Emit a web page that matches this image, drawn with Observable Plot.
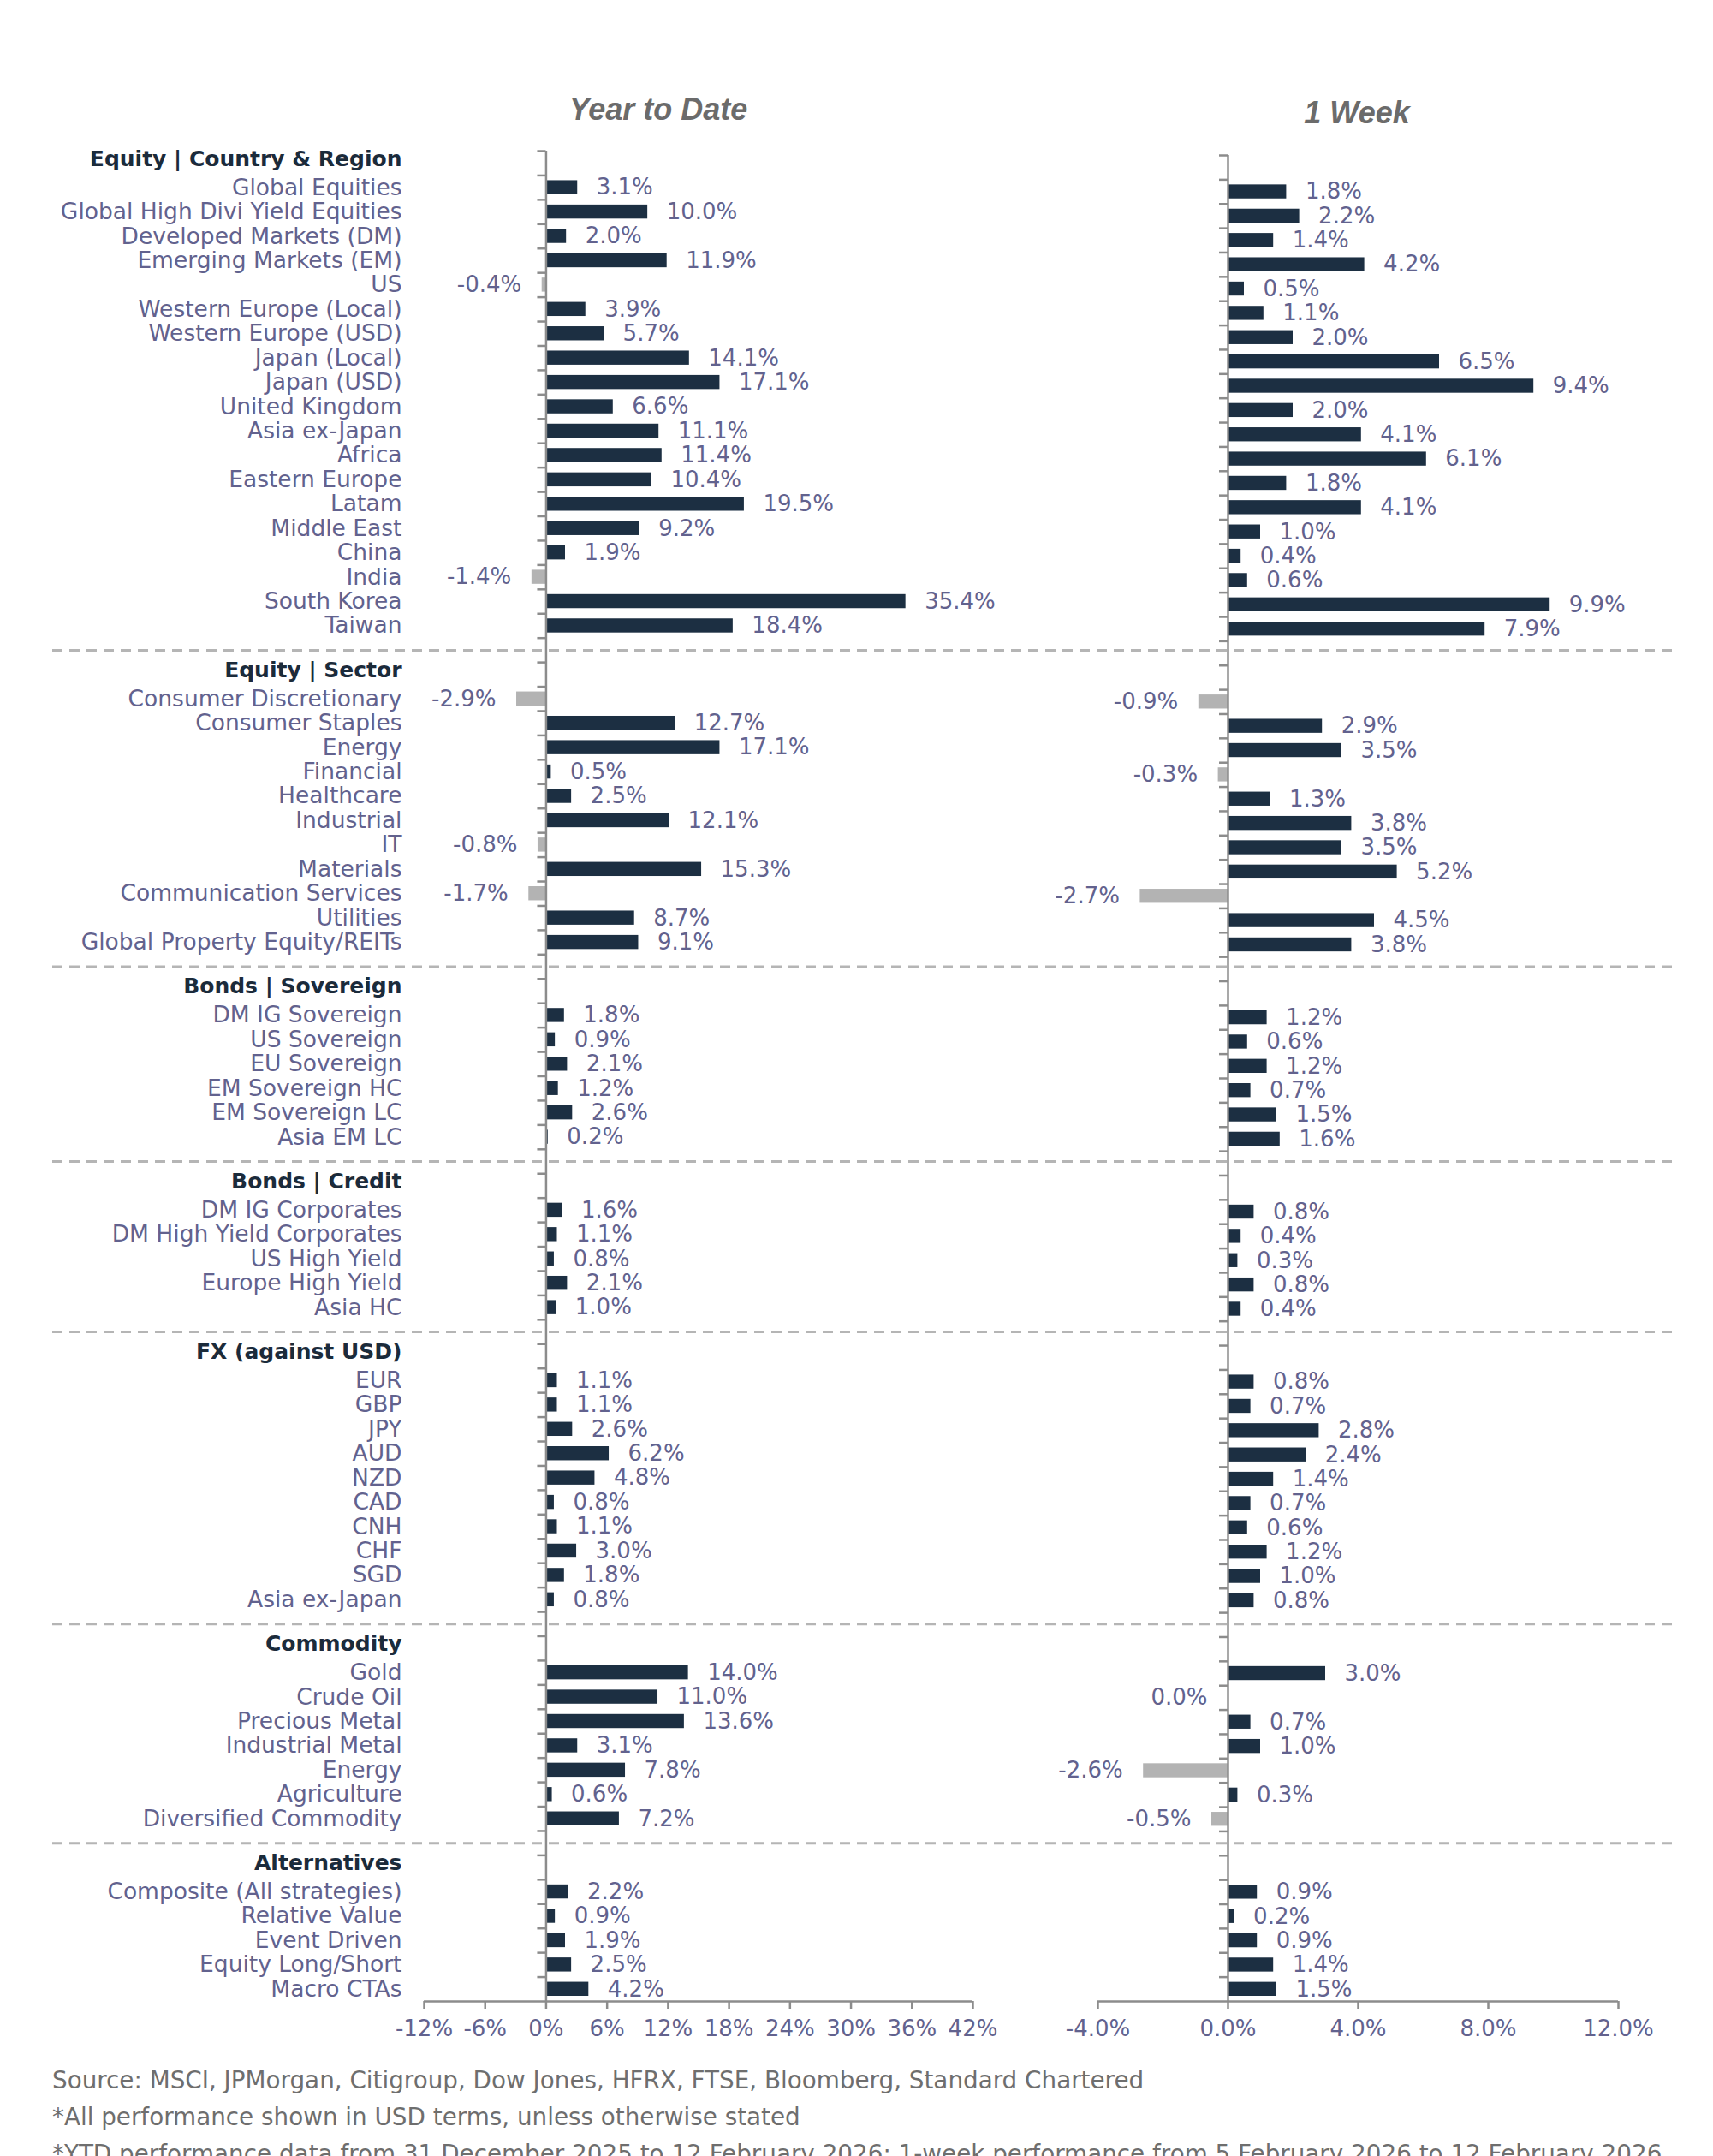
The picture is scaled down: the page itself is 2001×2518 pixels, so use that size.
<!DOCTYPE html>
<html>
<head>
<meta charset="utf-8">
<script src="https://cdn.jsdelivr.net/npm/d3@7"></script>
<script src="https://cdn.jsdelivr.net/npm/@observablehq/plot@0.6"></script>
<style>
  html, body { margin: 0; padding: 0; background: #ffffff; }
  #page { position: relative; width: 2001px; height: 2518px; overflow: hidden; background: #ffffff; font-family: "DejaVu Sans", sans-serif; }
  .title { position: absolute; font: italic bold 36px "Liberation Sans", Arial, sans-serif; color: #6b6b6b; white-space: nowrap; transform: translate(-50%, -50%); line-height: 1; }
  .note { position: absolute; left: 61px; font-size: 27.8px; color: #6e6e6e; white-space: nowrap; transform: translateY(-50%); line-height: 1; }
  #left, #right { position: absolute; top: 150px; }
  #left { left: 0px; }
  #right { left: 1200px; }
  svg { overflow: visible; }
</style>
</head>
<body>
<div id="page">
  <div class="title" id="t1" style="left:769px; top:128px;"></div>
  <div class="title" id="t2" style="left:1585px; top:132px;"></div>
  <div id="left"></div>
  <div id="right"></div>
  <div class="note" id="n0" style="top:2430px;"></div>
  <div class="note" id="n1" style="top:2473px;"></div>
  <div class="note" id="n2" style="top:2516px;"></div>
</div>
<script>
// ---------- data ----------
const panelTitles = ["Year to Date", "1 Week"];

const sectionTitles = [
  "Equity | Country & Region",
  "Equity | Sector",
  "Bonds | Sovereign",
  "Bonds | Credit",
  "FX (against USD)",
  "Commodity",
  "Alternatives"
];

const eqCountryNames = ["Global Equities", "Global High Divi Yield Equities", "Developed Markets (DM)", "Emerging Markets (EM)", "US", "Western Europe (Local)", "Western Europe (USD)", "Japan (Local)", "Japan (USD)", "United Kingdom", "Asia ex-Japan", "Africa", "Eastern Europe", "Latam", "Middle East", "China", "India", "South Korea", "Taiwan"];
const eqCountryYtd = [3.1, 10.0, 2.0, 11.9, -0.4, 3.9, 5.7, 14.1, 17.1, 6.6, 11.1, 11.4, 10.4, 19.5, 9.2, 1.9, -1.4, 35.4, 18.4];
const eqCountryWeek = [1.8, 2.2, 1.4, 4.2, 0.5, 1.1, 2.0, 6.5, 9.4, 2.0, 4.1, 6.1, 1.8, 4.1, 1.0, 0.4, 0.6, 9.9, 7.9];

const eqSectorNames = ["Consumer Discretionary", "Consumer Staples", "Energy", "Financial", "Healthcare", "Industrial", "IT", "Materials", "Communication Services", "Utilities", "Global Property Equity/REITs"];
const eqSectorYtd = [-2.9, 12.7, 17.1, 0.5, 2.5, 12.1, -0.8, 15.3, -1.7, 8.7, 9.1];
const eqSectorWeek = [-0.9, 2.9, 3.5, -0.3, 1.3, 3.8, 3.5, 5.2, -2.7, 4.5, 3.8];

const sovNames = ["DM IG Sovereign", "US Sovereign", "EU Sovereign", "EM Sovereign HC", "EM Sovereign LC", "Asia EM LC"];
const sovYtd = [1.8, 0.9, 2.1, 1.2, 2.6, 0.2];
const sovWeek = [1.2, 0.6, 1.2, 0.7, 1.5, 1.6];

const creditNames = ["DM IG Corporates", "DM High Yield Corporates", "US High Yield", "Europe High Yield", "Asia HC"];
const creditYtd = [1.6, 1.1, 0.8, 2.1, 1.0];
const creditWeek = [0.8, 0.4, 0.3, 0.8, 0.4];

const fxNames = ["EUR", "GBP", "JPY", "AUD", "NZD", "CAD", "CNH", "CHF", "SGD", "Asia ex-Japan"];
const fxYtd = [1.1, 1.1, 2.6, 6.2, 4.8, 0.8, 1.1, 3.0, 1.8, 0.8];
const fxWeek = [0.8, 0.7, 2.8, 2.4, 1.4, 0.7, 0.6, 1.2, 1.0, 0.8];

const commodityNames = ["Gold", "Crude Oil", "Precious Metal", "Industrial Metal", "Energy", "Agriculture", "Diversified Commodity"];
const commodityYtd = [14.0, 11.0, 13.6, 3.1, 7.8, 0.6, 7.2];
const commodityWeek = [3.0, 0.0, 0.7, 1.0, -2.6, 0.3, -0.5];

const altNames = ["Composite (All strategies)", "Relative Value", "Event Driven", "Equity Long/Short", "Macro CTAs"];
const altYtd = [2.2, 0.9, 1.9, 2.5, 4.2];
const altWeek = [0.9, 0.2, 0.9, 1.4, 1.5];

const ytdTicks = [-12, -6, 0, 6, 12, 18, 24, 30, 36, 42];
const weekTicks = [-4, 0, 4, 8, 12];

const footnotes = [
  "Source: MSCI, JPMorgan, Citigroup, Dow Jones, HFRX, FTSE, Bloomberg, Standard Chartered",
  "*All performance shown in USD terms, unless otherwise stated",
  "*YTD performance data from 31 December 2025 to 12 February 2026; 1-week performance from 5 February 2026 to 12 February 2026"
];

// ---------- build rows ----------
const sectionNames = [eqCountryNames, eqSectorNames, sovNames, creditNames, fxNames, commodityNames, altNames];
const sectionYtd = [eqCountryYtd, eqSectorYtd, sovYtd, creditYtd, fxYtd, commodityYtd, altYtd];
const sectionWeek = [eqCountryWeek, eqSectorWeek, sovWeek, creditWeek, fxWeek, commodityWeek, altWeek];

const rows = [];
sectionTitles.forEach((t, s) => {
  rows.push({id: "h" + s, kind: "header", name: t});
  sectionNames[s].forEach((n, i) => rows.push({id: "r" + s + "_" + i, kind: "item", name: n, ytd: sectionYtd[s][i], week: sectionWeek[s][i]}));
  if (s < sectionTitles.length - 1) rows.push({id: "sep" + s, kind: "sep"});
});
const ids = rows.map(r => r.id);
const items = rows.filter(r => r.kind === "item");
const headers = rows.filter(r => r.kind === "header");
const seps = rows.filter(r => r.kind === "sep");

// ---------- style ----------
const NAVY = "#1c2f42";
const GREY = "#b3b3b3";
const LABEL = "#62628e";
const HEAD = "#1b2b3b";
const AXIS = "#8c8c8c";
const SEP = "#b5b5b5";

const H = 2250, MB = 63;
const fmtVal = v => (v < 0 ? "-" : "") + Math.abs(v).toFixed(1) + "%";

function panel({key, width, ml, mr, mt, ticks, tickFormat, labels, sepLeft, sepRight}) {
  const bw = (H - mt - MB) / ids.length;
  const marks = [];
  if (labels) {
    marks.push(Plot.ruleY(seps, {y: "id", stroke: SEP, strokeWidth: 3, strokeDasharray: "12,8", insetLeft: -sepLeft, insetRight: -sepRight}));
  }
  marks.push(
    Plot.barX(items.filter(d => d[key] >= 0), {y: "id", x1: 0, x2: key, fill: NAVY, insetTop: 6, insetBottom: 6}),
    Plot.barX(items.filter(d => d[key] < 0), {y: "id", x1: 0, x2: key, fill: GREY, insetTop: 6, insetBottom: 6}),
    Plot.ruleX([0], {stroke: AXIS, strokeWidth: 2.5}),
    Plot.ruleY(ids, {y: d => d, x1: 0, x2: 0, insetLeft: -10, dy: -bw / 2, stroke: AXIS, strokeWidth: 2.5}),
    Plot.ruleY([ids[ids.length - 1]], {y: d => d, x1: ticks[0], x2: ticks[ticks.length - 1], dy: bw / 2, stroke: AXIS, strokeWidth: 2.5}),
    Plot.axisX({ticks, tickFormat, label: null, tickSize: 9, tickPadding: 13, stroke: AXIS, strokeWidth: 2.5, color: LABEL, fontSize: 26}),
    Plot.text(items.filter(d => d[key] > 0), {y: "id", x: key, text: d => fmtVal(d[key]), textAnchor: "start", dx: 22, fill: LABEL, fontSize: 26}),
    Plot.text(items.filter(d => d[key] <= 0), {y: "id", x: key, text: d => fmtVal(d[key]), textAnchor: "end", dx: -24, fill: LABEL, fontSize: 26})
  );
  if (labels) {
    marks.push(Plot.text(items, {y: "id", text: "name", frameAnchor: "left", textAnchor: "end", dx: -26, fill: LABEL, fontSize: 26.5}));
    marks.push(Plot.text(headers, {y: "id", text: "name", frameAnchor: "left", textAnchor: "end", dx: -26, dy: -5, fill: HEAD, fontSize: 25, fontWeight: "bold"}));
  }
  return Plot.plot({
    width, height: H,
    marginLeft: ml, marginRight: mr, marginTop: mt, marginBottom: MB,
    x: {domain: [ticks[0], ticks[ticks.length - 1]], label: null},
    y: {domain: ids, axis: null, padding: 0, round: false},
    style: {fontFamily: "DejaVu Sans, sans-serif", fontSize: "26px", background: "transparent", overflow: "visible"},
    marks
  });
}

document.getElementById("t1").textContent = panelTitles[0];
document.getElementById("t2").textContent = panelTitles[1];
footnotes.forEach((t, i) => document.getElementById("n" + i).textContent = t);

document.getElementById("left").append(panel({
  key: "ytd", width: 1200, ml: 495, mr: 64, mt: 26, ticks: ytdTicks,
  tickFormat: v => (v < 0 ? "-" : "") + Math.abs(v) + "%",
  labels: true, sepLeft: 434, sepRight: 820
}));
document.getElementById("right").append(panel({
  key: "week", width: 801, ml: 82, mr: 111, mt: 31, ticks: weekTicks,
  tickFormat: v => (v < 0 ? "-" : "") + Math.abs(v).toFixed(1) + "%",
  labels: false, sepLeft: 0, sepRight: 0
}));
</script>
</body>
</html>
